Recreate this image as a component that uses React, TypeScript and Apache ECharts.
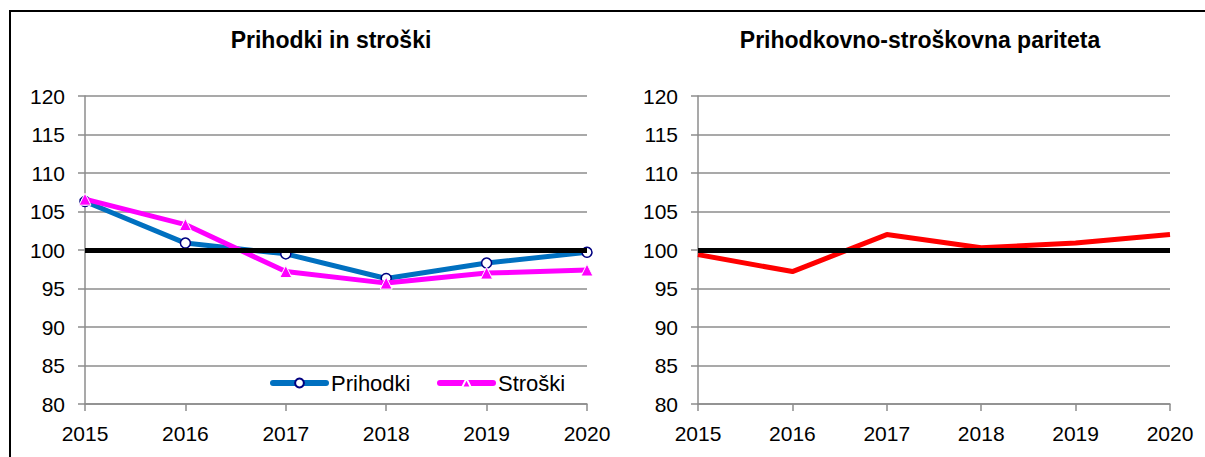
import React, { useEffect, useRef } from "react";
import * as echarts from "echarts";

const years = ["2015", "2016", "2017", "2018", "2019", "2020"];
const prihodki = [106.3, 100.9, 99.5, 96.3, 98.3, 99.7];
const stroski = [106.6, 103.3, 97.2, 95.7, 97.0, 97.4];
const pariteta = [99.4, 97.2, 102.0, 100.3, 100.9, 102.0];
const yMin = 80;
const yMax = 120;
const yStep = 5;
const parityLevel = 100;

const FONT = "'Liberation Sans', Arial, sans-serif";
const GRID_COLOR = "#8c8c8c";

function yAxisDef(gridIndex: number) {
  return {
    type: "value",
    gridIndex,
    min: yMin,
    max: yMax,
    interval: yStep,
    axisLine: { show: true, lineStyle: { color: GRID_COLOR, width: 1.5 } },
    axisTick: { show: true, length: 7, lineStyle: { color: GRID_COLOR, width: 1.5 } },
    splitLine: { show: true, lineStyle: { color: GRID_COLOR, width: 1.5 } },
    axisLabel: { color: "#000", fontSize: 21, fontFamily: FONT, margin: 20 },
  };
}

function xAxisDef(gridIndex: number) {
  return {
    type: "category",
    gridIndex,
    data: years,
    boundaryGap: false,
    axisLine: { show: true, lineStyle: { color: GRID_COLOR, width: 1.5 } },
    axisTick: { show: true, length: 7, alignWithLabel: true, lineStyle: { color: GRID_COLOR, width: 1.5 } },
    splitLine: { show: false },
    axisLabel: { color: "#000", fontSize: 21, fontFamily: FONT, margin: 19 },
  };
}

const refLine = {
  symbol: "none",
  silent: true,
  label: { show: false },
  lineStyle: { color: "#000", width: 5, type: "solid" },
  data: [{ yAxis: parityLevel }],
};

function legendDef(name: string, left: number) {
  return {
    data: [name],
    left,
    top: 372,
    padding: 0,
    itemWidth: 53,
    itemHeight: 11,
    itemGap: 0,
    lineStyle: { width: 6, cap: "round" },
    textStyle: { color: "#000", fontSize: 22, fontFamily: FONT },
  };
}

export default function App() {
  const ref = useRef<HTMLDivElement>(null);
  useEffect(() => {
    if (!ref.current) return;
    const chart = echarts.init(ref.current, null, { renderer: "svg" });
    chart.setOption({
      animation: false,
      backgroundColor: "#fff",
      textStyle: { fontFamily: FONT },
      grid: [
        { left: 85, right: 618, top: 96, bottom: 53 },
        { left: 698, right: 35, top: 96, bottom: 53 },
      ],
      xAxis: [xAxisDef(0), xAxisDef(1)],
      yAxis: [yAxisDef(0), yAxisDef(1)],
      legend: [legendDef("Prihodki", 270), legendDef("Stroški", 437)],
      graphic: [
        {
          type: "rect",
          shape: { x: 10, y: 11, width: 1400, height: 800 },
          style: { fill: "none", stroke: "#000", lineWidth: 2 },
          silent: true,
        },
        {
          type: "text",
          x: 331,
          y: 40,
          style: {
            text: "Prihodki in stroški",
            textAlign: "center",
            textVerticalAlign: "middle",
            font: `bold 23px ${FONT}`,
            fill: "#000",
          },
        },
        {
          type: "text",
          x: 920,
          y: 40,
          style: {
            text: "Prihodkovno-stroškovna pariteta",
            textAlign: "center",
            textVerticalAlign: "middle",
            font: `bold 23px ${FONT}`,
            fill: "#000",
          },
        },
      ],
      series: [
        {
          name: "Prihodki",
          type: "line",
          xAxisIndex: 0,
          yAxisIndex: 0,
          data: prihodki,
          symbol: "circle",
          symbolSize: 10,
          showAllSymbol: true,
          lineStyle: { color: "#0070C0", width: 5 },
          itemStyle: { color: "#fff", borderColor: "#000080", borderWidth: 1.5 },
          markLine: refLine,
          z: 2,
        },
        {
          name: "Stroški",
          type: "line",
          xAxisIndex: 0,
          yAxisIndex: 0,
          data: stroski,
          symbol: "triangle",
          symbolSize: 12,
          showAllSymbol: true,
          lineStyle: { color: "#FF00FF", width: 5 },
          itemStyle: { color: "#FF00FF", borderColor: "#fff", borderWidth: 1 },
          z: 3,
        },
        {
          name: "Pariteta",
          type: "line",
          xAxisIndex: 1,
          yAxisIndex: 1,
          data: pariteta,
          symbol: "none",
          lineStyle: { color: "#FF0000", width: 5 },
          itemStyle: { color: "#FF0000" },
          markLine: refLine,
          z: 2,
        },
      ],
    });
    return () => chart.dispose();
  }, []);
  return (
    <div
      ref={ref}
      style={{ position: "absolute", left: 0, top: 0, width: 1205, height: 457 }}
    />
  );
}
